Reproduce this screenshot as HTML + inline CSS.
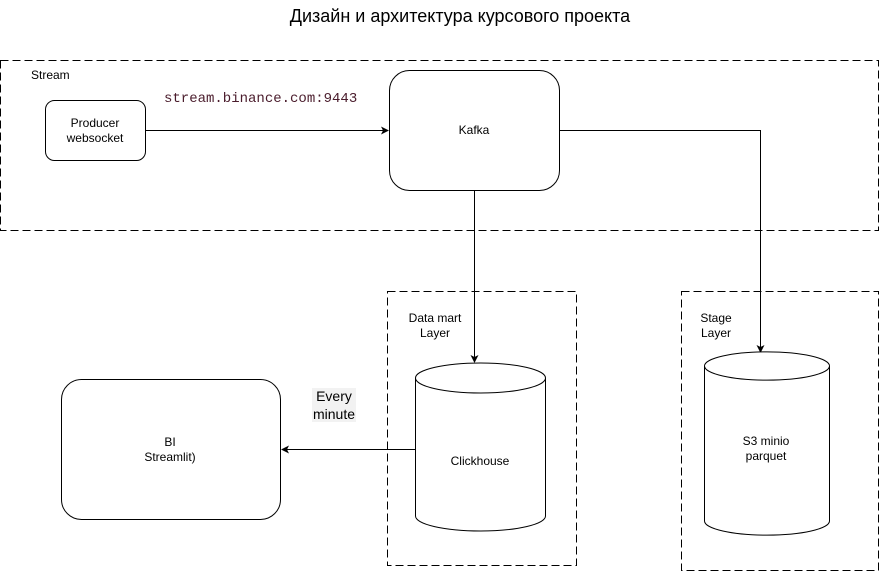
<html><body style="margin:0;background:#fff">
<svg width="881" height="571" xmlns="http://www.w3.org/2000/svg" font-family="Liberation Sans, sans-serif">
<defs><marker id="a" markerWidth="8" markerHeight="8" refX="7" refY="4" orient="auto" markerUnits="userSpaceOnUse"><path d="M0,0 L8,4 L0,8 L2,4 Z" fill="#000"/></marker></defs>
<text x="460" y="22" font-size="18" text-anchor="middle">Дизайн и архитектура курсового проекта</text>
<rect x="0.5" y="60.5" width="878" height="170" fill="none" stroke="#000" stroke-dasharray="8,4"/>
<text x="31" y="79" font-size="12">Stream</text>
<rect x="45.5" y="100.5" width="100" height="60" rx="9" fill="#fff" stroke="#000"/>
<text x="95" y="127" font-size="12" text-anchor="middle">Producer</text>
<text x="95" y="142" font-size="12" text-anchor="middle">websocket</text>
<text x="164" y="102" font-size="14" fill="#4a1c2c" font-family="Liberation Mono, DejaVu Sans Mono, monospace">stream.binance.com:9443</text>
<line x1="145.5" y1="130.5" x2="388" y2="130.5" stroke="#000" marker-end="url(#a)"/>
<rect x="389.5" y="70.5" width="170" height="120" rx="20" fill="#fff" stroke="#000"/>
<text x="474" y="134" font-size="12" text-anchor="middle">Kafka</text>
<path d="M559.5 130.5 H760.5 V352" fill="none" stroke="#000" marker-end="url(#a)"/>
<line x1="474.5" y1="190.5" x2="474.5" y2="362" stroke="#000" marker-end="url(#a)"/>
<rect x="387.5" y="291.5" width="189" height="274" fill="none" stroke="#000" stroke-dasharray="8,4"/>
<text x="435" y="322" font-size="12" text-anchor="middle">Data mart</text>
<text x="435" y="337" font-size="12" text-anchor="middle">Layer</text>
<rect x="681.5" y="291.5" width="197" height="279" fill="none" stroke="#000" stroke-dasharray="8,4"/>
<text x="716" y="322" font-size="12" text-anchor="middle">Stage</text>
<text x="716" y="337" font-size="12" text-anchor="middle">Layer</text>
<path d="M415.5 378 A65 15 0 0 1 545.5 378 V516 A65 15 0 0 1 415.5 516 Z" fill="#fff" stroke="#000"/>
<path d="M415.5 378 A65 15 0 0 0 545.5 378" fill="none" stroke="#000"/>
<text x="480" y="465" font-size="12" text-anchor="middle">Clickhouse</text>
<path d="M704.5 366 A62 14 0 0 1 829.5 366 V521 A62 14 0 0 1 704.5 521 Z" fill="#fff" stroke="#000"/>
<path d="M704.5 366 A62 14 0 0 0 829.5 366" fill="none" stroke="#000"/>
<text x="766" y="445" font-size="12" text-anchor="middle">S3 minio</text>
<text x="766" y="460" font-size="12" text-anchor="middle">parquet</text>
<rect x="61.5" y="379.5" width="219" height="140" rx="20" fill="#fff" stroke="#000"/>
<text x="170" y="446" font-size="12" text-anchor="middle">BI</text>
<text x="170" y="461" font-size="12" text-anchor="middle">Streamlit)</text>
<line x1="415" y1="449.5" x2="282" y2="449.5" stroke="#000" marker-end="url(#a)"/>
<rect x="312" y="388" width="44" height="34" fill="#f2f2f2"/>
<text x="334" y="401" font-size="14" text-anchor="middle">Every</text>
<text x="334" y="419" font-size="14" text-anchor="middle">minute</text>
</svg>
</body></html>
